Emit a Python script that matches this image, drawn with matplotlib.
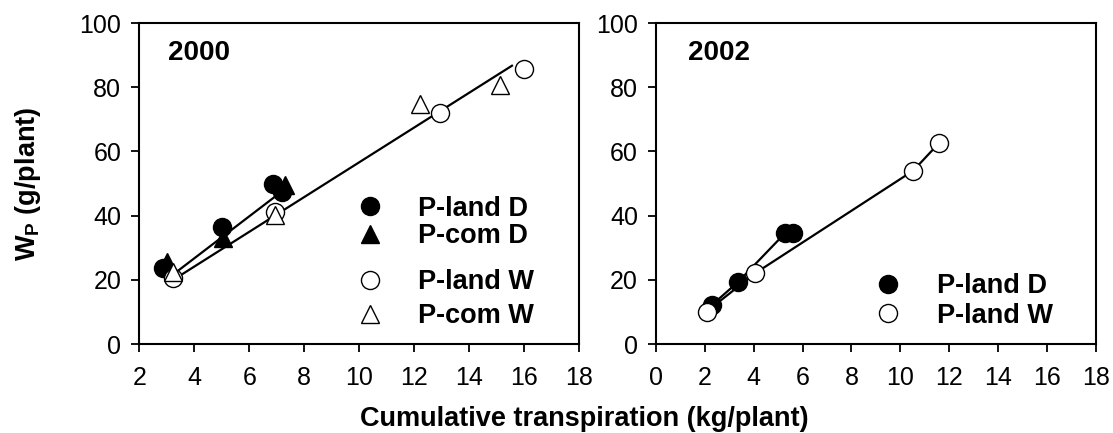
import matplotlib
matplotlib.use("Agg")
import matplotlib.pyplot as plt
from matplotlib.lines import Line2D

plt.rcParams['font.family'] = ['Liberation Sans', 'DejaVu Sans']
plt.rcParams['mathtext.fontset'] = 'custom'
plt.rcParams['mathtext.bf'] = 'Liberation Sans:bold'
plt.rcParams['mathtext.rm'] = 'Liberation Sans:bold'
plt.rcParams['mathtext.default'] = 'bf'

# 2000 season, cumulative transpiration (kg/plant) vs Wp (g/plant)
pland_D_2000_x = [2.87, 5.02, 6.88, 7.19]
pland_D_2000_y = [23.6, 36.5, 50.0, 47.4]
pcom_D_2000_x = [3.0, 5.06, 7.31]
pcom_D_2000_y = [25.6, 32.9, 49.5]
pland_W_2000_x = [3.24, 6.94, 12.95, 16.01]
pland_W_2000_y = [20.5, 41.2, 72.1, 85.6]
pcom_W_2000_x = [3.24, 6.94, 12.2, 15.14]
pcom_W_2000_y = [22.5, 40.2, 74.8, 80.7]

# regression lines (start, end)
fit_D_2000_x = [3.25, 7.15]
fit_D_2000_y = [21.8, 47.3]
fit_W_2000_x = [3.2, 15.56]
fit_W_2000_y = [19.8, 86.7]

# 2002 season
pland_D_2002_x = [2.28, 3.37, 5.28, 5.62]
pland_D_2002_y = [12.1, 19.4, 34.5, 34.5]
pland_W_2002_x = [2.07, 4.05, 10.53, 11.6]
pland_W_2002_y = [10.1, 22.0, 54.0, 62.7]

ms = 13
mst = 13
mew = 1.0
lw = 1.6
fs_tick = 18
fs_leg = 19.5

fig = plt.figure(figsize=(11.13, 4.33), dpi=100)
ax1 = fig.add_axes([0.1252, 0.2055, 0.395, 0.7413])
ax2 = fig.add_axes([0.5894, 0.2055, 0.395, 0.7413])

# ---- 2000 panel
ax1.plot(fit_D_2000_x, fit_D_2000_y, color='black', lw=lw, zorder=2)
ax1.plot(fit_W_2000_x, fit_W_2000_y, color='black', lw=lw, zorder=2)
ax1.plot(pland_D_2000_x, pland_D_2000_y, 'o', ms=ms, mfc='black', mec='black', mew=mew, zorder=3)
ax1.plot(pcom_D_2000_x, pcom_D_2000_y, '^', ms=mst, mfc='black', mec='black', mew=mew, zorder=3)
ax1.plot(pland_W_2000_x, pland_W_2000_y, 'o', ms=ms, mfc='white', mec='black', mew=mew, zorder=3)
ax1.plot(pcom_W_2000_x, pcom_W_2000_y, '^', ms=mst, mfc='white', mec='black', mew=mew, zorder=3)
ax1.set_xlim(2, 18)
ax1.set_xticks(range(2, 19, 2))

h_pland_D = Line2D([], [], ls='none', marker='o', ms=ms, mfc='black', mec='black', mew=mew)
h_pcom_D = Line2D([], [], ls='none', marker='^', ms=mst, mfc='black', mec='black', mew=mew)
h_pland_W = Line2D([], [], ls='none', marker='o', ms=ms, mfc='white', mec='black', mew=mew)
h_pcom_W = Line2D([], [], ls='none', marker='^', ms=mst, mfc='white', mec='black', mew=mew)

legA = ax1.legend([h_pland_D, h_pcom_D], ['P-land D', 'P-com D'], loc='center left',
                  bbox_to_anchor=(0.493, 0.3785), frameon=False, borderpad=0,
                  borderaxespad=0, handlelength=1.0, handletextpad=1.3, labelspacing=0.05,
                  prop={'size': fs_leg, 'weight': 'bold'})
ax1.add_artist(legA)
ax1.legend([h_pland_W, h_pcom_W], ['P-land W', 'P-com W'], loc='center left',
           bbox_to_anchor=(0.493, 0.140), frameon=False, borderpad=0,
           borderaxespad=0, handlelength=1.0, handletextpad=1.3, labelspacing=0.3,
           prop={'size': fs_leg, 'weight': 'bold'})
ax1.text(0.065, 0.885, '2000', transform=ax1.transAxes, fontsize=20,
         fontweight='bold', va='baseline', ha='left')

# ---- 2002 panel
ax2.plot(pland_D_2002_x, pland_D_2002_y, color='black', lw=lw, zorder=2)
ax2.plot(pland_W_2002_x, pland_W_2002_y, color='black', lw=lw, zorder=2)
ax2.plot(pland_D_2002_x, pland_D_2002_y, 'o', ms=ms, mfc='black', mec='black', mew=mew, zorder=3)
ax2.plot(pland_W_2002_x, pland_W_2002_y, 'o', ms=ms, mfc='white', mec='black', mew=mew, zorder=3)
ax2.set_xlim(0, 18)
ax2.set_xticks(range(0, 19, 2))
ax2.legend([h_pland_D, h_pland_W], ['P-land D', 'P-land W'], loc='center left',
           bbox_to_anchor=(0.497, 0.134), frameon=False, borderpad=0,
           borderaxespad=0, handlelength=1.0, handletextpad=1.31, labelspacing=0.12,
           prop={'size': fs_leg, 'weight': 'bold'})
ax2.text(0.073, 0.885, '2002', transform=ax2.transAxes, fontsize=20,
         fontweight='bold', va='baseline', ha='left')

for ax in (ax1, ax2):
    ax.set_ylim(0, 100)
    ax.set_yticks(range(0, 101, 20))
    for s in ax.spines.values():
        s.set_linewidth(1.5)
    ax.tick_params(axis='both', direction='out', length=6, width=1.3, labelsize=fs_tick)
    ax.tick_params(axis='x', pad=10)
    ax.tick_params(axis='y', pad=7)

fig.text(0.525, 0.0169, 'Cumulative transpiration (kg/plant)', ha='center',
         va='baseline', fontsize=19.5, fontweight='bold')
fig.text(0.025, 0.576, r'$W_P$ (g/plant)', rotation=90, ha='center', va='center',
         fontsize=19.5, fontweight='bold')

fig.savefig('out.png', dpi=100)
